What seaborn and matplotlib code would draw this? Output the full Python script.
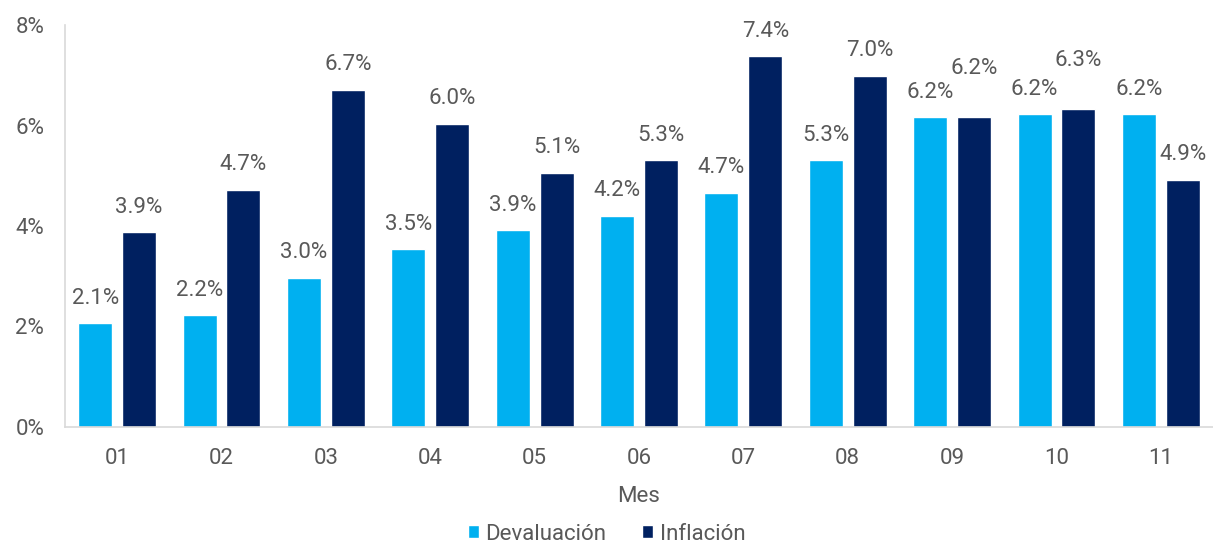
import matplotlib
matplotlib.use("Agg")
import matplotlib.pyplot as plt
import seaborn as sns
import pandas as pd
from matplotlib.patches import Patch

meses = ["01", "02", "03", "04", "05", "06", "07", "08", "09", "10", "11"]
devaluacion = [2.06, 2.22, 2.97, 3.54, 3.92, 4.20, 4.66, 5.31, 6.16, 6.22, 6.22]
inflacion = [3.88, 4.72, 6.71, 6.03, 5.06, 5.31, 7.38, 6.99, 6.16, 6.33, 4.92]
series = ["Devaluación", "Inflación"]
colores = ["#00B0F0", "#002060"]
yticks = [0, 2, 4, 6, 8]

df = pd.DataFrame({
    "Mes": meses * 2,
    "valor": devaluacion + inflacion,
    "serie": [series[0]] * len(meses) + [series[1]] * len(meses),
})

sns.set_theme(style="white")
plt.rcParams["font.family"] = ["Roboto", "DejaVu Sans"]

FS = 16
GRIS = "#595959"

fig = plt.figure(figsize=(12.13, 5.43), dpi=100)
ax = fig.add_axes([65 / 1213, 116 / 543, 1 - 65 / 1213, (427 - 25) / 543])

sns.barplot(data=df, x="Mes", y="valor", hue="serie", palette=colores,
            width=0.84, gap=0.226, ax=ax, legend=False, saturation=1)

# label offsets (points); two Inflación labels are lifted to avoid overlap, as in the original
offsets = [[18] * len(meses), [18] * len(meses)]
offsets[1][8] = 35.5
offsets[1][9] = 35

for cont, offs in zip(ax.containers, offsets):
    for bar, off in zip(cont, offs):
        h = bar.get_height()
        ax.annotate(f"{h:.1f}%", (bar.get_x() + bar.get_width() / 2, h),
                    xytext=(0, off), textcoords="offset points",
                    ha="center", va="center", fontsize=FS, color=GRIS)

ax.set_xlim(-0.5, len(meses) - 0.5)
ax.set_ylim(0, 8)
ax.set_yticks(yticks)
ax.set_yticklabels([f"{t}%" for t in yticks])
ax.tick_params(axis="y", length=0, pad=15, labelsize=FS, labelcolor=GRIS)
ax.tick_params(axis="x", length=0, pad=15, labelsize=FS, labelcolor=GRIS)
ax.set_xlabel("Mes", fontsize=FS, color=GRIS, labelpad=12)
ax.set_ylabel("")

for s in ["top", "right"]:
    ax.spines[s].set_visible(False)
for s in ["left", "bottom"]:
    ax.spines[s].set_color("#D9D9D9")
    ax.spines[s].set_linewidth(1.2)

handles = [Patch(facecolor=c, label=l) for c, l in zip(colores, series)]
fig.legend(handles=handles, loc="lower center", bbox_to_anchor=(0.5, -0.04),
           ncol=2, frameon=False, fontsize=FS, handlelength=0.5, handleheight=0.5,
           handletextpad=0.3, columnspacing=1.6, labelcolor=GRIS)

fig.savefig("out.png", dpi=100)
